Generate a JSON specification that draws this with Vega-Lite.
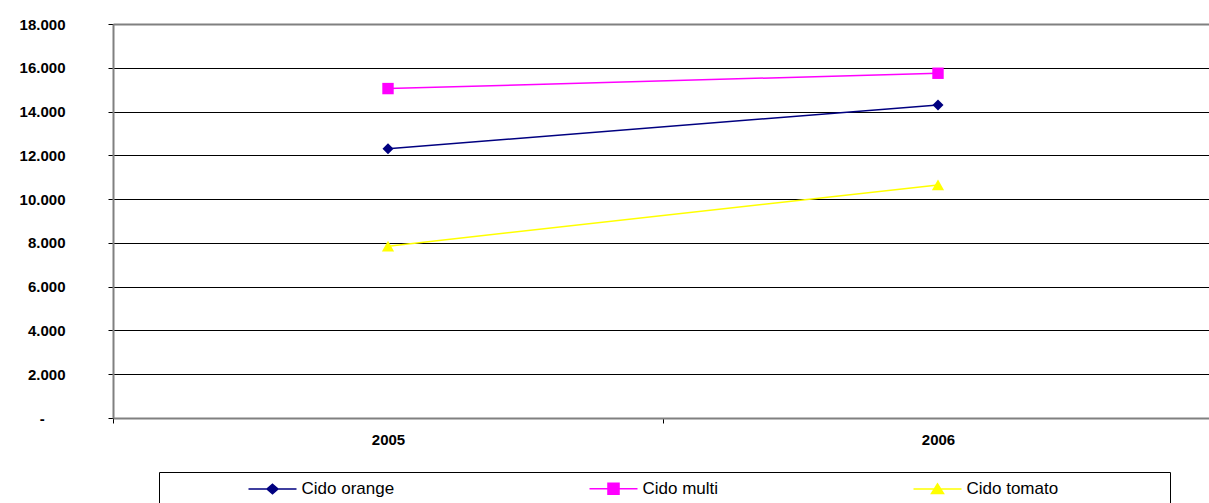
{
  "$schema": "https://vega.github.io/schema/vega-lite/v6.json",
  "width": 1100,
  "height": 394,
  "autosize": {"type": "none"},
  "padding": {"left": 113, "top": 24, "right": 0, "bottom": 85},
  "background": "white",
  "config": {"view": {"stroke": null}, "font": "Liberation Sans"},
  "data": {
    "values": [
      {"year": "2005", "series": "Cido orange", "value": 12300},
      {"year": "2006", "series": "Cido orange", "value": 14300},
      {"year": "2005", "series": "Cido multi", "value": 15050},
      {"year": "2006", "series": "Cido multi", "value": 15750},
      {"year": "2005", "series": "Cido tomato", "value": 7850},
      {"year": "2006", "series": "Cido tomato", "value": 10650}
    ]
  },
  "encoding": {
    "x": {
      "field": "year",
      "type": "ordinal",
      "scale": {"type": "band", "paddingInner": 0, "paddingOuter": 0},
      "axis": {
        "title": null,
        "labelAngle": 0,
        "labelFont": "Liberation Sans",
        "labelFontSize": 15,
        "labelFontWeight": "bold",
        "labelColor": "black",
        "labelPadding": 9,
        "tickBand": "extent",
        "tickSize": 5,
        "tickColor": "black",
        "domainColor": "#808080",
        "domainWidth": 2,
        "grid": false
      }
    },
    "y": {
      "field": "value",
      "type": "quantitative",
      "scale": {"domain": [0, 18000], "nice": false},
      "axis": {
        "title": null,
        "values": [0, 2000, 4000, 6000, 8000, 10000, 12000, 14000, 16000, 18000],
        "labelExpr": "datum.value === 0 ? '-\u00a0\u00a0\u00a0\u00a0\u00a0\u200b' : replace(format(datum.value, ',.0f'), ',', '.')",
        "labelFont": "Liberation Sans",
        "labelFontSize": 15,
        "labelFontWeight": "bold",
        "labelColor": "black",
        "labelPadding": 43,
        "tickSize": 5,
        "tickColor": "black",
        "domainColor": "#808080",
        "domainWidth": 2,
        "grid": true,
        "gridColor": {"condition": {"test": "datum.value === 18000", "value": "#808080"}, "value": "black"},
        "gridWidth": {"condition": {"test": "datum.value === 18000", "value": 2}, "value": 1}
      }
    },
    "color": {
      "field": "series",
      "type": "nominal",
      "scale": {
        "domain": ["Cido orange", "Cido multi", "Cido tomato"],
        "range": ["#000080", "#FF00FF", "#FFFF00"]
      },
      "legend": {
        "orient": "none",
        "legendX": 46,
        "legendY": 448,
        "direction": "horizontal",
        "title": "\u200b\u00a0\u00a0\u00a0\u00a0\u00a0\u00a0\u00a0\u00a0\u00a0\u00a0\u00a0\u00a0\u00a0\u00a0\u00a0\u00a0\u00a0\u00a0\u00a0\u00a0\u200b",
        "titleOrient": "left",
        "titleFont": "Liberation Sans",
        "titleFontSize": 17,
        "titlePadding": 2,
        "padding": 7.5,
        "strokeColor": "black",
        "columnPadding": 192,
        "labelOffset": 20,
        "symbolSize": 256,
        "labelFont": "Liberation Sans",
        "labelFontSize": 17,
        "labelColor": "black",
        "labelLimit": 400,
        "labelExpr": "datum.label === 'Cido tomato' ? datum.label + '\u00a0\u00a0\u00a0\u00a0\u00a0\u00a0\u00a0\u00a0\u00a0\u00a0\u00a0\u00a0\u00a0\u00a0\u00a0\u00a0\u00a0\u00a0\u00a0\u00a0\u00a0\u00a0\u200b' : datum.label",
        "encode": {
          "symbols": {
            "update": {
              "shape": {"signal": "datum.value === 'Cido orange' ? 'M-3,0H3M0,-0.6L0.69,0L0,0.6L-0.69,0Z' : datum.value === 'Cido multi' ? 'M-3,0H3M-0.69,-0.69H0.69V0.69H-0.69Z' : 'M-3,0H3M0,-0.65L0.75,0.55H-0.75Z'"},
              "size": {"value": 256},
              "fill": {"signal": "scale('color', datum.value)"},
              "stroke": {"signal": "scale('color', datum.value)"},
              "strokeWidth": {"value": 1.5},
              "opacity": {"value": 1},
              "fillOpacity": {"value": 1},
              "strokeOpacity": {"value": 1}
            }
          }
        }
      }
    }
  },
  "layer": [
    {"mark": {"type": "line", "strokeWidth": 1.5}},
    {
      "transform": [{"filter": "datum.series === 'Cido orange'"}],
      "mark": {"type": "point", "shape": "diamond", "size": 121, "filled": true, "opacity": 1}
    },
    {
      "transform": [{"filter": "datum.series === 'Cido multi'"}],
      "mark": {"type": "point", "shape": "square", "size": 130, "filled": true, "opacity": 1}
    },
    {
      "transform": [{"filter": "datum.series === 'Cido tomato'"}],
      "mark": {"type": "point", "shape": "triangle-up", "size": 150, "filled": true, "opacity": 1}
    }
  ]
}
